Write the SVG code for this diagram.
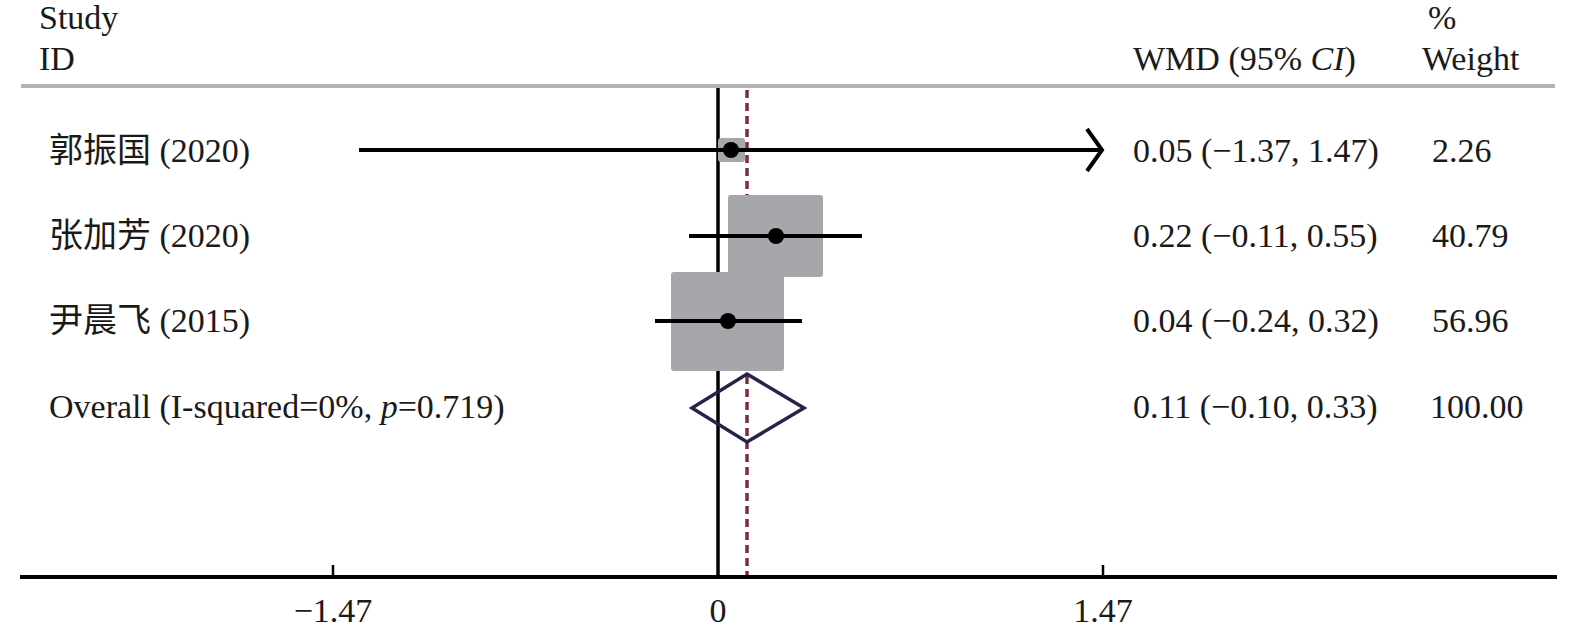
<svg xmlns="http://www.w3.org/2000/svg" width="1575" height="631" viewBox="0 0 1575 631">
<style>
text{font-family:"Liberation Serif","Noto Sans CJK SC",serif;font-size:34px;fill:#1a1a1a}
.it{font-style:italic}
.ci{stroke:#000;stroke-width:4;fill:none}
.box{fill:#a5a7ab}
.dot{fill:#000}
.tick{stroke:#000;stroke-width:2.5}
</style>
<rect width="1575" height="631" fill="#fff"/>
<g id="header">
<text x="39" y="29">Study</text>
<text x="39" y="70">ID</text>
<text x="1133" y="70">WMD (95% <tspan class="it">CI</tspan>)</text>
<text x="1428" y="29">%</text>
<text x="1422" y="70">Weight</text>
<line x1="21" y1="86" x2="1555" y2="86" stroke="#b3b3b3" stroke-width="4"/>
</g>
<g id="reference-lines">
<line x1="718" y1="88" x2="718" y2="577" stroke="#000" stroke-width="3.5"/>
<line x1="747" y1="90" x2="747" y2="577" stroke="#7b2d3a" stroke-width="3.5" stroke-dasharray="8,5"/>
</g>
<g id="study-1">
<rect class="box" x="718" y="138" width="27" height="24" rx="3"/>
<line class="ci" x1="359" y1="150" x2="1101" y2="150"/>
<polyline class="ci" points="1087,129 1102,150 1087,171"/>
<circle class="dot" cx="731" cy="150" r="8"/>
<text x="49" y="162">郭振国 (2020)</text>
<text x="1133" y="162">0.05 (−1.37, 1.47)</text>
<text x="1432" y="162">2.26</text>
</g>
<g id="study-2">
<rect class="box" x="728" y="195" width="95" height="82" rx="3"/>
<line class="ci" x1="689" y1="236" x2="862" y2="236"/>
<circle class="dot" cx="776" cy="236" r="8"/>
<text x="49" y="247">张加芳 (2020)</text>
<text x="1133" y="247">0.22 (−0.11, 0.55)</text>
<text x="1432" y="247">40.79</text>
</g>
<g id="study-3">
<rect class="box" x="671" y="272" width="113" height="99" rx="3"/>
<line class="ci" x1="655" y1="321" x2="802" y2="321"/>
<circle class="dot" cx="728" cy="321" r="8"/>
<text x="49" y="332">尹晨飞 (2015)</text>
<text x="1133" y="332">0.04 (−0.24, 0.32)</text>
<text x="1432" y="332">56.96</text>
</g>
<g id="overall">
<polygon points="747,374 804,408 747,442 692,408" fill="none" stroke="#25254a" stroke-width="3.5"/>
<text x="49" y="418">Overall (I-squared=0%, <tspan class="it">p</tspan>=0.719)</text>
<text x="1133" y="418">0.11 (−0.10, 0.33)</text>
<text x="1430" y="418">100.00</text>
</g>
<g id="axis">
<line x1="20" y1="577" x2="1557" y2="577" stroke="#000" stroke-width="4"/>
<line class="tick" x1="333" y1="565" x2="333" y2="577"/>
<line class="tick" x1="1103" y1="565" x2="1103" y2="577"/>
<text x="333" y="622" text-anchor="middle">−1.47</text>
<text x="718" y="622" text-anchor="middle">0</text>
<text x="1103" y="622" text-anchor="middle">1.47</text>
</g>
</svg>
